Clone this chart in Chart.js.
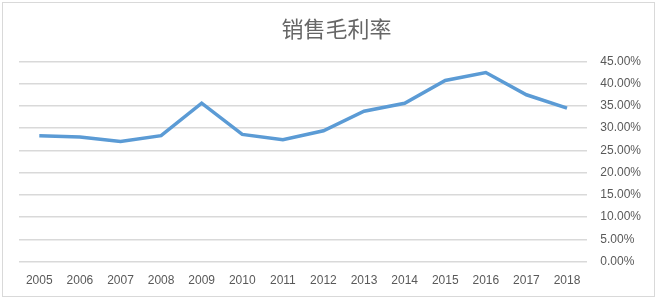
<!DOCTYPE html>
<html>
<head>
<meta charset="utf-8">
<script src="https://cdn.jsdelivr.net/npm/chart.js@4/dist/chart.umd.min.js"></script>
<style>
  html, body { margin: 0; padding: 0; background: #fff; }
  #wrap { position: relative; width: 660px; height: 301px; }
  #frame { position: absolute; left: 2px; top: 2px; width: 651px; height: 293px; border: 1px solid #d9d9d9; pointer-events: none; }
</style>
</head>
<body>
<div id="wrap">
  <canvas id="chart-area" width="660" height="301"></canvas>
  <div id="frame"></div>
</div>
<script>
var years = ['2005', '2006', '2007', '2008', '2009', '2010', '2011', '2012', '2013', '2014', '2015', '2016', '2017', '2018'];
var grossMargin = [0.283, 0.280, 0.270, 0.283, 0.356, 0.286, 0.274, 0.294, 0.338, 0.356, 0.407, 0.425, 0.375, 0.345];

var config = {
    type: 'line',
    data: {
        labels: years,
        datasets: [{
            label: '销售毛利率',
            data: grossMargin,
            borderColor: '#5b9bd5',
            borderWidth: 3.5,
            pointRadius: 0,
            tension: 0,
            fill: false
        }]
    },
    options: {
        responsive: false,
        animation: false,
        layout: {
            padding: { left: 19, right: 6, top: 0, bottom: 1 }
        },
        plugins: {
            legend: { display: false },
            tooltip: { enabled: false },
            title: {
                display: true,
                text: '销售毛利率',
                color: '#666666',
                font: { family: '"Noto Sans CJK SC", sans-serif', size: 22, weight: 'normal' },
                padding: { top: 15, bottom: 20 }
            }
        },
        scales: {
            x: {
                offset: true,
                grid: { display: false, drawTicks: false },
                border: { display: false },
                ticks: {
                    color: '#595959',
                    font: { family: '"Liberation Sans", sans-serif', size: 12 },
                    padding: 12,
                    maxRotation: 0,
                    autoSkip: false
                }
            },
            y: {
                position: 'right',
                min: 0,
                max: 0.45,
                grid: { color: '#d9d9d9', lineWidth: 1.5, drawTicks: false },
                border: { display: false },
                ticks: {
                    stepSize: 0.05,
                    color: '#595959',
                    font: { family: '"Liberation Sans", sans-serif', size: 12 },
                    padding: 13,
                    callback: function (v) { return (v * 100).toFixed(2) + '%'; }
                }
            }
        }
    }
};

var ctx = document.getElementById('chart-area').getContext('2d');
window.myLine = new Chart(ctx, config);
</script>
</body>
</html>
